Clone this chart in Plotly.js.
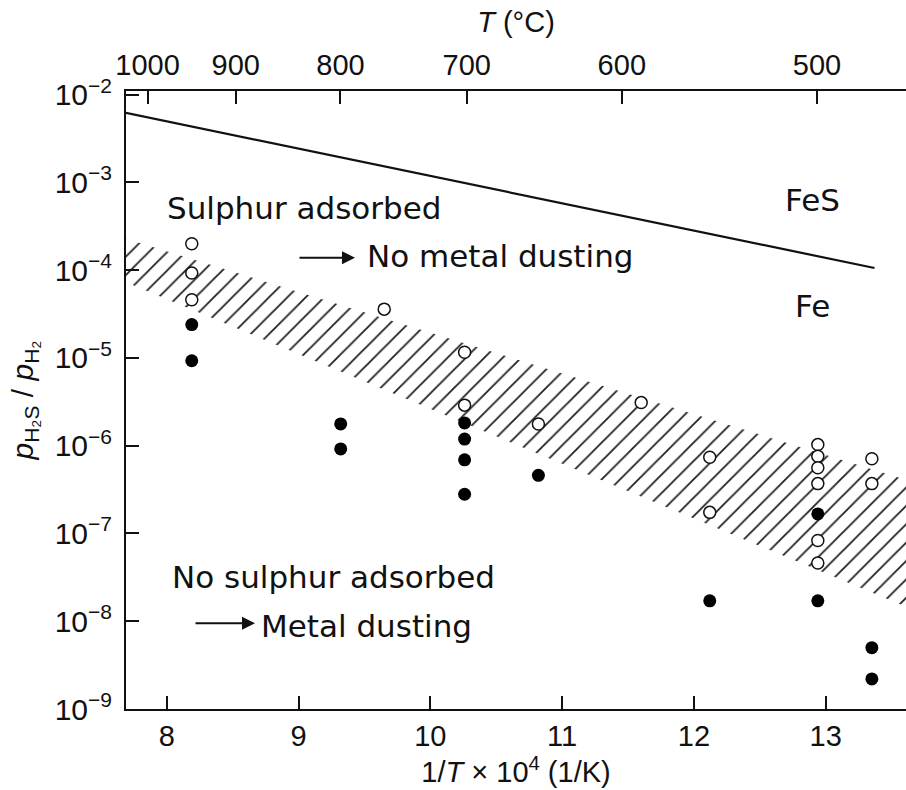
<!DOCTYPE html>
<html><head><meta charset="utf-8">
<script src="https://cdn.plot.ly/plotly-3.0.1.min.js"></script>
<style>html,body{margin:0;padding:0;background:#fff}</style>
</head><body><div id="chart" style="width:906px;height:790px"></div>
<script>
// ---- data ----
const xTicks = [8, 9, 10, 11, 12, 13];
const yTickVals = [1e-9, 1e-8, 1e-7, 1e-6, 1e-5, 1e-4, 1e-3, 1e-2];
const yTickText = ['10<sup>−9</sup>','10<sup>−8</sup>','10<sup>−7</sup>','10<sup>−6</sup>','10<sup>−5</sup>','10<sup>−4</sup>','10<sup>−3</sup>','10<sup>−2</sup>'];
const topTempsC = [1000, 900, 800, 700, 600, 500];

// FeS / Fe equilibrium line
const boundaryX = [7.69, 13.37];
const boundaryY = [6.2e-3, 1.06e-4];

// hatched transition band
const bandX = [7.69, 13.61];
const bandUpper = [2.29e-4, 4.1e-7];
const bandLower = [7.3e-5, 1.46e-8];

// sulphur adsorbed (open circles)
const openX = [8.19, 8.19, 8.19, 9.65, 10.26, 10.26, 10.82, 11.60, 12.12, 12.12, 12.94, 12.94, 12.94, 12.94, 12.94, 12.94, 13.35, 13.35];
const openY = [2.0e-4, 9.3e-5, 4.6e-5, 3.6e-5, 1.16e-5, 2.9e-6, 1.77e-6, 3.1e-6, 7.4e-7, 1.74e-7, 1.03e-6, 7.6e-7, 5.6e-7, 3.7e-7, 8.3e-8, 4.6e-8, 7.1e-7, 3.7e-7];

// no sulphur adsorbed (filled circles)
const filledX = [8.19, 8.19, 9.32, 9.32, 10.26, 10.26, 10.26, 10.26, 10.82, 12.12, 12.94, 12.94, 13.35, 13.35];
const filledY = [2.4e-5, 9.3e-6, 1.77e-6, 9.2e-7, 1.82e-6, 1.19e-6, 6.9e-7, 2.8e-7, 4.6e-7, 1.71e-8, 1.67e-7, 1.71e-8, 5.0e-9, 2.2e-9];

// ---- build ----
const xRange = [7.691, 13.609];
const yRange = [-9, -1.958];
const topTickPos = topTempsC.map(t => 1e4 / (t + 273.15));
const axisFont = {family: 'Liberation Sans, Arial, sans-serif', size: 29, color: '#111'};
const textFont = {family: 'DejaVu Sans, sans-serif', size: 31, color: '#111'};

const traces = [
  {x: bandX.concat(bandX.slice().reverse()), y: bandUpper.concat(bandLower.slice().reverse()),
   mode: 'lines', fill: 'toself', line: {width: 0, color: 'rgba(0,0,0,0)'},
   fillcolor: 'rgba(0,0,0,0)',
   fillpattern: {shape: '/', size: 13, solidity: 0.14, fgcolor: '#222', bgcolor: 'rgba(0,0,0,0)'},
   hoverinfo: 'skip', showlegend: false},
  {x: boundaryX, y: boundaryY, mode: 'lines', line: {color: '#111', width: 2.2}, showlegend: false},
  {x: openX, y: openY, mode: 'markers', marker: {symbol: 'circle', size: 12, color: '#fff', line: {color: '#111', width: 1.5}}, showlegend: false},
  {x: filledX, y: filledY, mode: 'markers', marker: {symbol: 'circle', size: 13, color: '#000'}, showlegend: false},
  {x: topTickPos, y: topTickPos.map(() => null), xaxis: 'x2', mode: 'markers', marker: {opacity: 0}, showlegend: false, hoverinfo: 'skip'}
];

function P(px, py) { return {x: (px - 126) / 780, y: (709 - py) / 618}; }

const ann = [];
function txt(text, px, py, xanchor) {
  const p = P(px, py);
  ann.push({text, x: p.x, y: p.y, xref: 'paper', yref: 'paper', xanchor: xanchor || 'left', yanchor: 'middle', showarrow: false, font: textFont});
}
function arrow(tailPx, headPx, py) {
  const p = P(headPx, py);
  ann.push({text: '', x: p.x, y: p.y, xref: 'paper', yref: 'paper', ax: tailPx - headPx, ay: 0,
    showarrow: true, arrowhead: 2, arrowsize: 1.3, arrowwidth: 2, arrowcolor: '#111', standoff: 0, startstandoff: 0});
}
txt('Sulphur adsorbed', 165, 208);
arrow(298, 355, 257.7);
txt('No metal dusting', 365, 256);
txt('FeS', 812, 200, 'center');
txt('Fe', 812, 306, 'center');
txt('No sulphur adsorbed', 170, 577);
arrow(194, 255, 623.3);
txt('Metal dusting', 259, 626);

const layout = {
  width: 906, height: 790,
  margin: {l: 126, r: 0, t: 91, b: 81, pad: 0},
  paper_bgcolor: '#fff', plot_bgcolor: '#fff',
  showlegend: false,
  xaxis: {range: xRange, tickvals: xTicks, ticktext: xTicks.map(String), ticks: 'inside', ticklen: 13, tickwidth: 2, tickcolor: '#111',
    showline: true, linecolor: '#111', linewidth: 2, showgrid: false, zeroline: false, tickfont: axisFont,
    automargin: false,
    title: {text: '1/<i>T</i> × 10<sup>4</sup> (1/K)', font: axisFont, standoff: 8}},
  xaxis2: {overlaying: 'x', side: 'top', range: xRange, tickvals: topTickPos, ticktext: topTempsC.map(String),
    ticks: 'inside', ticklen: 13, tickwidth: 2, tickcolor: '#111', showline: true, linecolor: '#111', linewidth: 2,
    showgrid: false, zeroline: false, tickfont: axisFont, automargin: false, ticklabelstandoff: 2,
    title: {text: '<i>T</i> (°C)', font: axisFont, standoff: 8}},
  yaxis: {type: 'log', range: yRange, tickvals: yTickVals, ticktext: yTickText, ticks: 'inside', ticklen: 13, tickwidth: 2, tickcolor: '#111',
    showline: true, linecolor: '#111', linewidth: 2, showgrid: false, zeroline: false, tickfont: {family: axisFont.family, size: 30, color: '#111'},
    automargin: false, ticklabelstandoff: 6,
    title: {text: '<i>p</i><sub>H₂S</sub> / <i>p</i><sub>H₂</sub>', font: {family: axisFont.family, size: 30, color: '#111'}, standoff: 12}},
  annotations: ann
};

Plotly.newPlot('chart', traces, layout, {staticPlot: true, displayModeBar: false});
</script>
</body></html>
